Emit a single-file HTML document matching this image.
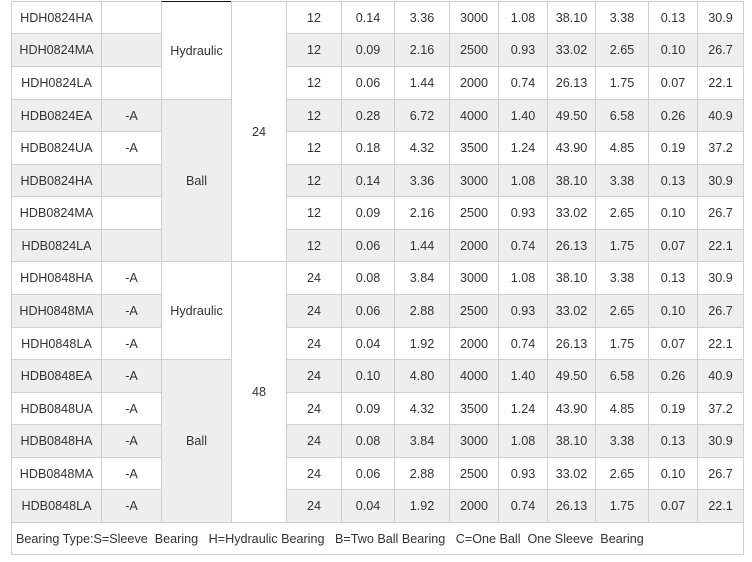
<!DOCTYPE html>
<html><head><meta charset="utf-8">
<style>
html,body{margin:0;padding:0;background:#fff;}
body{width:752px;height:562px;position:relative;overflow:hidden;font-family:"Liberation Sans",Arial,sans-serif;font-size:12.6px;color:#333;}
.r{position:absolute;left:0;width:752px;}
.r div,.m{position:absolute;top:0;height:100%;box-sizing:border-box;border:1px solid #cfcfcf;display:flex;align-items:center;justify-content:center;background:#fff;white-space:nowrap;}
.g div{background:#eee;}
.a1{left:11px;width:91px;}
.a2{left:101px;width:61px;}
.a3{left:161px;width:71px;}
.a4{left:231px;width:56px;}
.a5{left:286px;width:56px;}
.a6{left:341px;width:54px;}
.a7{left:394px;width:56px;}
.a8{left:449px;width:50px;}
.a9{left:498px;width:50px;}
.a10{left:547px;width:49px;}
.a11{left:595px;width:54px;}
.a12{left:648px;width:50px;}
.a13{left:697px;width:47px;}
.m{z-index:2;}
.foot{position:absolute;left:11px;top:522px;width:733px;height:33px;box-sizing:border-box;border:1px solid #cfcfcf;display:flex;align-items:center;padding-left:4px;white-space:pre;background:#fff;}
</style></head><body>

<div class="r" style="top:1px;height:33px"><div class="a1">HDH0824HA</div><div class="a2"></div><div class="a5">12</div><div class="a6">0.14</div><div class="a7">3.36</div><div class="a8">3000</div><div class="a9">1.08</div><div class="a10">38.10</div><div class="a11">3.38</div><div class="a12">0.13</div><div class="a13">30.9</div></div>
<div class="r g" style="top:33px;height:34px"><div class="a1">HDH0824MA</div><div class="a2"></div><div class="a5">12</div><div class="a6">0.09</div><div class="a7">2.16</div><div class="a8">2500</div><div class="a9">0.93</div><div class="a10">33.02</div><div class="a11">2.65</div><div class="a12">0.10</div><div class="a13">26.7</div></div>
<div class="r" style="top:66px;height:34px"><div class="a1">HDH0824LA</div><div class="a2"></div><div class="a5">12</div><div class="a6">0.06</div><div class="a7">1.44</div><div class="a8">2000</div><div class="a9">0.74</div><div class="a10">26.13</div><div class="a11">1.75</div><div class="a12">0.07</div><div class="a13">22.1</div></div>
<div class="r g" style="top:99px;height:33px"><div class="a1">HDB0824EA</div><div class="a2">-A</div><div class="a5">12</div><div class="a6">0.28</div><div class="a7">6.72</div><div class="a8">4000</div><div class="a9">1.40</div><div class="a10">49.50</div><div class="a11">6.58</div><div class="a12">0.26</div><div class="a13">40.9</div></div>
<div class="r" style="top:131px;height:34px"><div class="a1">HDB0824UA</div><div class="a2">-A</div><div class="a5">12</div><div class="a6">0.18</div><div class="a7">4.32</div><div class="a8">3500</div><div class="a9">1.24</div><div class="a10">43.90</div><div class="a11">4.85</div><div class="a12">0.19</div><div class="a13">37.2</div></div>
<div class="r g" style="top:164px;height:33px"><div class="a1">HDB0824HA</div><div class="a2"></div><div class="a5">12</div><div class="a6">0.14</div><div class="a7">3.36</div><div class="a8">3000</div><div class="a9">1.08</div><div class="a10">38.10</div><div class="a11">3.38</div><div class="a12">0.13</div><div class="a13">30.9</div></div>
<div class="r" style="top:196px;height:34px"><div class="a1">HDB0824MA</div><div class="a2"></div><div class="a5">12</div><div class="a6">0.09</div><div class="a7">2.16</div><div class="a8">2500</div><div class="a9">0.93</div><div class="a10">33.02</div><div class="a11">2.65</div><div class="a12">0.10</div><div class="a13">26.7</div></div>
<div class="r g" style="top:229px;height:33px"><div class="a1">HDB0824LA</div><div class="a2"></div><div class="a5">12</div><div class="a6">0.06</div><div class="a7">1.44</div><div class="a8">2000</div><div class="a9">0.74</div><div class="a10">26.13</div><div class="a11">1.75</div><div class="a12">0.07</div><div class="a13">22.1</div></div>
<div class="r" style="top:261px;height:34px"><div class="a1">HDH0848HA</div><div class="a2">-A</div><div class="a5">24</div><div class="a6">0.08</div><div class="a7">3.84</div><div class="a8">3000</div><div class="a9">1.08</div><div class="a10">38.10</div><div class="a11">3.38</div><div class="a12">0.13</div><div class="a13">30.9</div></div>
<div class="r g" style="top:294px;height:34px"><div class="a1">HDH0848MA</div><div class="a2">-A</div><div class="a5">24</div><div class="a6">0.06</div><div class="a7">2.88</div><div class="a8">2500</div><div class="a9">0.93</div><div class="a10">33.02</div><div class="a11">2.65</div><div class="a12">0.10</div><div class="a13">26.7</div></div>
<div class="r" style="top:327px;height:33px"><div class="a1">HDH0848LA</div><div class="a2">-A</div><div class="a5">24</div><div class="a6">0.04</div><div class="a7">1.92</div><div class="a8">2000</div><div class="a9">0.74</div><div class="a10">26.13</div><div class="a11">1.75</div><div class="a12">0.07</div><div class="a13">22.1</div></div>
<div class="r g" style="top:359px;height:34px"><div class="a1">HDB0848EA</div><div class="a2">-A</div><div class="a5">24</div><div class="a6">0.10</div><div class="a7">4.80</div><div class="a8">4000</div><div class="a9">1.40</div><div class="a10">49.50</div><div class="a11">6.58</div><div class="a12">0.26</div><div class="a13">40.9</div></div>
<div class="r" style="top:392px;height:33px"><div class="a1">HDB0848UA</div><div class="a2">-A</div><div class="a5">24</div><div class="a6">0.09</div><div class="a7">4.32</div><div class="a8">3500</div><div class="a9">1.24</div><div class="a10">43.90</div><div class="a11">4.85</div><div class="a12">0.19</div><div class="a13">37.2</div></div>
<div class="r g" style="top:424px;height:34px"><div class="a1">HDB0848HA</div><div class="a2">-A</div><div class="a5">24</div><div class="a6">0.08</div><div class="a7">3.84</div><div class="a8">3000</div><div class="a9">1.08</div><div class="a10">38.10</div><div class="a11">3.38</div><div class="a12">0.13</div><div class="a13">30.9</div></div>
<div class="r" style="top:457px;height:33px"><div class="a1">HDB0848MA</div><div class="a2">-A</div><div class="a5">24</div><div class="a6">0.06</div><div class="a7">2.88</div><div class="a8">2500</div><div class="a9">0.93</div><div class="a10">33.02</div><div class="a11">2.65</div><div class="a12">0.10</div><div class="a13">26.7</div></div>
<div class="r g" style="top:489px;height:34px"><div class="a1">HDB0848LA</div><div class="a2">-A</div><div class="a5">24</div><div class="a6">0.04</div><div class="a7">1.92</div><div class="a8">2000</div><div class="a9">0.74</div><div class="a10">26.13</div><div class="a11">1.75</div><div class="a12">0.07</div><div class="a13">22.1</div></div>

<div class="m a3" style="top:1px;height:99px;border-top:1px solid #111;">Hydraulic</div>
<div class="m a3" style="top:99px;height:163px;background:#eee;">Ball</div>
<div class="m a4" style="top:1px;height:261px;">24</div>
<div class="m a3" style="top:261px;height:99px;border-bottom:1px solid #111;">Hydraulic</div>
<div class="m a3" style="top:359px;height:164px;background:#eee;">Ball</div>
<div class="m a4" style="top:261px;height:262px;">48</div>

<div class="foot">Bearing Type:S=Sleeve  Bearing   H=Hydraulic Bearing   B=Two Ball Bearing   C=One Ball  One Sleeve  Bearing</div>
</body></html>
